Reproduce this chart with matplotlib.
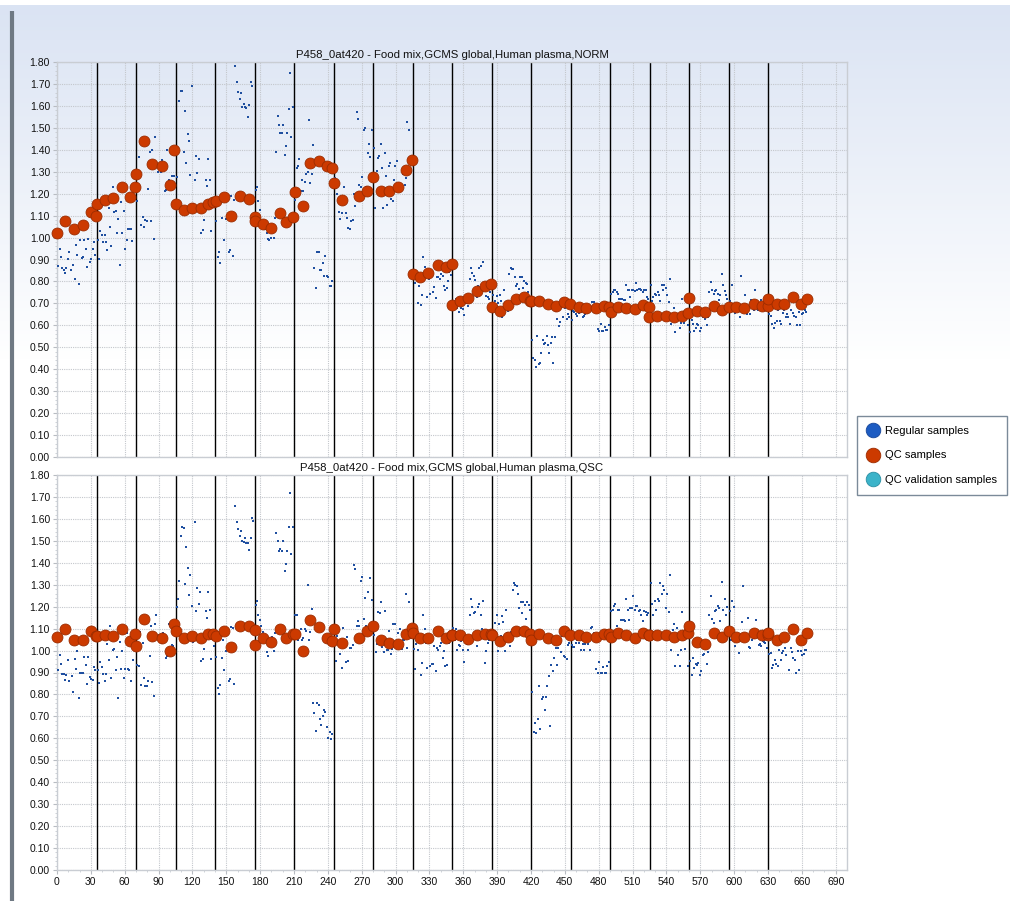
import numpy as np
import matplotlib
matplotlib.use('Agg')
import matplotlib.pyplot as plt
from matplotlib.lines import Line2D
from matplotlib.colors import LinearSegmentedColormap

plt.rcParams['font.family'] = ['Liberation Sans', 'DejaVu Sans']

# batches of 35 injections, one black line between each
batch_size = 35
batch_starts = [35 * k for k in range(19)]

# QC injection order, per batch
qc_x = [
    [0, 7.5, 15, 22.8, 30, 34.6],
    [35.5, 42.6, 49.5, 57.7, 64.9, 69.5],
    [70.2, 77.3, 84.4, 92.6, 99.7, 103.9],
    [105.6, 112.2, 119.6, 127.3, 133.5, 137.9],
    [140.6, 147.7, 154.3, 162, 169.7, 175.1],
    [175.6, 182.7, 189.8, 197.4, 203.3, 208.7],
    [210.5, 217.6, 224.5, 232.2, 239, 244],
    [245, 252.3, 267.4, 274.5, 279.9],
    [287.1, 294.2, 301.9, 309.6, 314.3],
    [315.2, 321.8, 328.9, 337.2, 344.3, 349.6],
    [350.4, 357.3, 364.4, 372, 379.2, 384.5],
    [385.6, 392.8, 399.3, 407, 414.1, 419.4],
    [420.2, 427.4, 435, 442.5, 449, 454.4],
    [462.4, 469, 477.7, 484.5, 489.3],
    [490.5, 497, 504.4, 512.4, 519.5, 524.3],
    [524.9, 532, 539.4, 547, 554.2, 558.9],
    [560.4, 566.9, 574, 582.3, 589.4],
    [595.3, 601.8, 608.9, 617.2, 624.3, 629.6],
    [630.2, 637.6, 643.8, 651.8, 658.9, 664.3],
]

qc_norm = [
    [1.02, 1.075, 1.04, 1.055, 1.115, 1.10],
    [1.155, 1.17, 1.18, 1.23, 1.185, 1.23],
    [1.29, 1.44, 1.335, 1.325, 1.24, 1.40],
    [1.155, 1.125, 1.135, 1.135, 1.155, 1.16],
    [1.165, 1.185, 1.10, 1.19, 1.175, 1.095],
    [1.075, 1.06, 1.045, 1.11, 1.07, 1.095],
    [1.207, 1.143, 1.342, 1.348, 1.324, 1.319],
    [1.25, 1.169, 1.19, 1.212, 1.278],
    [1.214, 1.214, 1.232, 1.308, 1.354],
    [0.835, 0.82, 0.84, 0.876, 0.867, 0.881],
    [0.691, 0.713, 0.725, 0.756, 0.779, 0.79],
    [0.682, 0.667, 0.691, 0.719, 0.731, 0.71],
    [0.71, 0.713, 0.695, 0.689, 0.705, 0.698],
    [0.682, 0.679, 0.679, 0.69, 0.685],
    [0.663, 0.682, 0.679, 0.673, 0.691, 0.684],
    [0.637, 0.641, 0.644, 0.637, 0.644, 0.657],
    [0.724, 0.667, 0.66, 0.69, 0.672],
    [0.685, 0.682, 0.678, 0.698, 0.69, 0.69],
    [0.719, 0.696, 0.699, 0.727, 0.696, 0.719],
]

qc_qsc = [
    [1.061, 1.10, 1.05, 1.05, 1.091, 1.065],
    [1.065, 1.07, 1.065, 1.096, 1.045, 1.077],
    [1.022, 1.146, 1.065, 1.058, 0.997, 1.123],
    [1.088, 1.055, 1.065, 1.058, 1.076, 1.076],
    [1.065, 1.088, 1.016, 1.114, 1.111, 1.093],
    [1.024, 1.058, 1.038, 1.10, 1.055, 1.077],
    [1.077, 0.997, 1.137, 1.109, 1.059, 1.042],
    [1.10, 1.033, 1.059, 1.087, 1.113],
    [1.048, 1.036, 1.032, 1.077, 1.103],
    [1.08, 1.055, 1.059, 1.087, 1.059, 1.071],
    [1.071, 1.071, 1.053, 1.073, 1.077, 1.074],
    [1.07, 1.044, 1.064, 1.087, 1.091, 1.074],
    [1.05, 1.076, 1.059, 1.048, 1.087, 1.071],
    [1.073, 1.064, 1.061, 1.076, 1.075],
    [1.061, 1.081, 1.073, 1.055, 1.078, 1.069],
    [1.069, 1.073, 1.073, 1.061, 1.069, 1.078],
    [1.114, 1.038, 1.032, 1.082, 1.064],
    [1.088, 1.064, 1.061, 1.078, 1.069, 1.069],
    [1.081, 1.05, 1.061, 1.096, 1.046, 1.078],
]

# regular samples, per batch, in injection order
reg_norm = [
    [0.87, 0.95, 0.91, 0.86, 0.85, 0.84, 0.86, 0.90, 0.935, 0.85, 1.035, 0.875, 0.81, 0.965,
     0.92, 0.79, 0.99, 0.905, 0.91, 0.99, 0.95, 0.865, 0.995, 0.89, 0.90, 0.95, 0.98, 0.92],
    [0.99, 0.90, 1.03, 1.01, 0.98, 1.01, 0.98, 0.945, 1.135, 1.05, 0.96, 1.23, 1.115, 1.12,
     1.02, 1.085, 0.875, 1.16, 1.02, 1.12, 0.95, 0.99, 1.04, 1.04, 1.04, 0.985, 1.18, 1.22],
    [1.165, 1.365, 1.30, 1.055, 1.095, 1.05, 1.08, 1.075, 1.22, 1.39, 1.075, 1.40, 0.995, 1.46,
     1.34, 1.30, 1.325, 1.30, 1.355, 1.34, 1.21, 1.215, 1.40, 1.26, 1.24, 1.28, 1.25, 1.28],
    [1.275, 1.41, 1.62, 1.67, 1.67, 1.39, 1.575, 1.34, 1.47, 1.44, 1.285, 1.69, 1.155, 1.26,
     1.37, 1.295, 1.36, 1.135, 1.02, 1.035, 1.08, 1.26, 1.235, 1.36, 1.26, 1.03, 1.16, 1.14],
    [1.075, 0.91, 0.935, 0.885, 1.09, 1.19, 0.99, 1.085, 1.195, 0.935, 0.945, 1.19, 0.915, 1.17,
     1.78, 1.71, 1.665, 1.63, 1.66, 1.595, 1.61, 1.595, 1.59, 1.55, 1.605, 1.71, 1.69, 1.18],
    [1.215, 1.23, 1.165, 1.125, 1.05, 1.05, 1.075, 1.04, 1.02, 0.995, 0.99, 1.0, 1.05, 1.0,
     1.09, 1.39, 1.555, 1.515, 1.475, 1.475, 1.515, 1.375, 1.415, 1.475, 1.585, 1.75, 1.46, 1.595],
    [1.17, 1.315, 1.325, 1.36, 1.21, 1.26, 1.21, 1.255, 1.29, 1.30, 1.535, 1.25, 1.29, 1.42,
     0.86, 0.77, 0.935, 0.935, 0.85, 0.85, 0.885, 0.825, 0.915, 0.825, 0.82, 0.78, 0.78, 0.80],
    [1.27, 1.227, 1.20, 1.117, 1.084, 1.11, 1.17, 1.23, 1.113, 1.087, 1.044, 1.04, 1.076, 1.08,
     1.20, 1.145, 1.57, 1.54, 1.24, 1.232, 1.278, 1.49, 1.50, 1.232, 1.385, 1.425, 1.366, 1.49],
    [1.408, 1.133, 1.304, 1.362, 1.37, 1.426, 1.316, 1.136, 1.385, 1.28, 1.15, 1.324, 1.34, 1.174,
     1.168, 1.263, 1.327, 1.347, 1.212, 1.21, 1.214, 1.232, 1.29, 1.24, 1.27, 1.525, 1.49, 1.316, 1.30],
    [0.835, 0.795, 0.82, 0.70, 0.777, 0.691, 0.736, 0.911, 0.866, 0.84, 0.728, 0.812, 0.744, 0.838,
     0.751, 0.774, 0.725, 0.82, 0.82, 0.809, 0.832, 0.826, 0.781, 0.759, 0.77, 0.80, 0.845, 0.83],
    [0.68, 0.70, 0.72, 0.68, 0.66, 0.695, 0.68, 0.675, 0.646, 0.70, 0.70, 0.69, 0.812, 0.863,
     0.84, 0.826, 0.805, 0.73, 0.78, 0.86, 0.87, 0.77, 0.888, 0.78, 0.735, 0.73, 0.72, 0.75],
    [0.737, 0.695, 0.71, 0.735, 0.70, 0.74, 0.71, 0.64, 0.76, 0.70, 0.69, 0.667, 0.835, 0.86,
     0.855, 0.855, 0.82, 0.78, 0.79, 0.766, 0.82, 0.82, 0.77, 0.80, 0.795, 0.79, 0.75, 0.72],
    [0.534, 0.45, 0.441, 0.411, 0.553, 0.423, 0.428, 0.476, 0.533, 0.517, 0.52, 0.553, 0.511, 0.476,
     0.52, 0.548, 0.429, 0.549, 0.664, 0.629, 0.598, 0.617, 0.682, 0.636, 0.697, 0.68, 0.629, 0.652, 0.64],
    [0.625, 0.667, 0.66, 0.652, 0.644, 0.655, 0.67, 0.66, 0.637, 0.644, 0.652, 0.655, 0.67, 0.69,
     0.67, 0.705, 0.705, 0.68, 0.673, 0.583, 0.575, 0.606, 0.575, 0.575, 0.594, 0.58, 0.58, 0.60],
    [0.744, 0.75, 0.759, 0.762, 0.75, 0.745, 0.718, 0.72, 0.72, 0.715, 0.715, 0.786, 0.759, 0.759,
     0.73, 0.762, 0.759, 0.757, 0.794, 0.762, 0.765, 0.765, 0.759, 0.75, 0.759, 0.76, 0.73, 0.72],
    [0.782, 0.713, 0.73, 0.744, 0.736, 0.75, 0.74, 0.713, 0.782, 0.759, 0.782, 0.77, 0.736, 0.705,
     0.809, 0.606, 0.652, 0.68, 0.568, 0.637, 0.652, 0.59, 0.61, 0.72, 0.61, 0.652, 0.629, 0.60],
    [0.568, 0.625, 0.606, 0.575, 0.59, 0.606, 0.603, 0.575, 0.59, 0.637, 0.652, 0.63, 0.603, 0.637,
     0.75, 0.797, 0.759, 0.744, 0.757, 0.759, 0.744, 0.715, 0.74, 0.835, 0.782, 0.757, 0.736, 0.72],
    [0.713, 0.67, 0.782, 0.68, 0.655, 0.67, 0.69, 0.637, 0.827, 0.66, 0.68, 0.736, 0.652, 0.68,
     0.65, 0.715, 0.68, 0.67, 0.759, 0.69, 0.67, 0.69, 0.715, 0.67, 0.67, 0.68, 0.70],
    [0.652, 0.644, 0.606, 0.59, 0.61, 0.618, 0.67, 0.62, 0.606, 0.655, 0.67, 0.637, 0.652, 0.637,
     0.606, 0.67, 0.655, 0.644, 0.637, 0.603, 0.66, 0.603, 0.652, 0.655, 0.67, 0.66],
]

reg_qsc = [
    [0.913, 0.981, 0.939, 0.895, 0.895, 0.864, 0.89, 0.955, 0.86, 1.05, 0.885, 0.809, 0.963, 0.916,
     0.997, 0.786, 0.898, 0.898, 0.898, 0.97, 0.936, 0.847, 0.97, 0.879, 0.87, 0.864, 0.923, 0.91],
    [0.91, 0.852, 0.948, 0.923, 0.895, 0.86, 0.895, 1.032, 0.958, 1.11, 0.875, 1.004, 1.009, 0.913,
     0.97, 0.782, 1.038, 0.916, 0.997, 0.875, 0.916, 1.08, 0.916, 0.913, 0.86, 1.065, 0.958, 1.082],
    [0.936, 0.931, 1.084, 0.844, 1.035, 0.875, 0.837, 0.837, 0.86, 0.974, 1.11, 0.857, 0.794, 1.119,
     1.164, 1.065, 1.073, 1.058, 1.035, 1.08, 1.065, 0.966, 0.974, 1.123, 1.004, 1.027, 1.02, 1.004],
    [1.20, 1.236, 1.317, 1.52, 1.565, 1.56, 1.305, 1.474, 1.378, 1.251, 1.343, 1.202, 1.038, 1.584,
     1.18, 1.287, 1.21, 1.268, 0.951, 0.962, 1.007, 1.18, 1.149, 1.266, 1.187, 0.962, 1.068, 1.02],
    [0.97, 0.829, 0.803, 0.844, 0.966, 1.05, 0.913, 0.997, 1.096, 0.86, 0.87, 1.108, 1.103, 0.849,
     1.66, 1.588, 1.553, 1.52, 1.546, 1.50, 1.495, 1.515, 1.492, 1.489, 1.459, 1.515, 1.606, 1.59],
    [1.206, 1.224, 1.164, 1.141, 1.111, 1.085, 1.073, 1.038, 0.992, 0.977, 1.02, 1.024, 1.06, 0.997,
     1.08, 1.535, 1.50, 1.454, 1.465, 1.454, 1.50, 1.362, 1.393, 1.454, 1.561, 1.72, 1.439, 1.564],
    [1.161, 1.164, 1.047, 1.07, 1.096, 1.047, 1.058, 1.099, 1.088, 1.30, 1.05, 1.083, 1.19, 0.763,
     0.715, 0.635, 0.763, 0.753, 0.689, 0.661, 0.702, 0.73, 0.72, 0.651, 0.60, 0.631, 0.596, 0.62],
    [1.076, 0.954, 1.068, 1.032, 0.986, 0.92, 1.103, 1.05, 0.946, 1.062, 0.954, 1.012, 1.012, 1.027,
     1.388, 1.373, 1.111, 1.134, 1.111, 1.317, 1.337, 1.142, 1.24, 1.111, 1.266, 1.099, 1.332, 1.23],
    [1.07, 0.992, 1.032, 1.175, 1.172, 1.221, 1.017, 0.992, 1.178, 1.004, 1.001, 1.088, 0.986, 1.007,
     1.119, 1.123, 1.038, 1.08, 1.012, 1.099, 1.007, 1.05, 1.047, 1.256, 1.012, 1.221, 1.096, 1.058],
    [1.007, 0.916, 1.032, 1.004, 1.065, 0.89, 0.943, 1.16, 1.099, 1.035, 0.92, 1.035, 0.931, 0.94,
     0.94, 1.02, 0.905, 1.012, 1.004, 1.022, 1.035, 0.966, 0.997, 0.931, 0.936, 1.05, 1.035, 1.068],
    [1.103, 1.047, 1.098, 1.004, 1.027, 1.02, 1.042, 1.004, 0.946, 1.035, 1.032, 1.004, 1.164, 1.233,
     1.20, 1.172, 1.175, 1.022, 1.20, 1.21, 1.16, 1.096, 1.225, 0.943, 0.997, 1.035, 1.05, 1.06],
    [1.093, 1.05, 1.126, 1.16, 0.997, 1.123, 1.065, 1.157, 1.132, 0.997, 1.187, 1.08, 1.053, 1.02,
     1.083, 1.276, 1.306, 1.30, 1.294, 1.256, 1.195, 1.221, 1.169, 1.221, 1.206, 1.145, 1.221, 1.206, 1.184],
    [0.809, 0.631, 0.672, 0.623, 0.689, 0.837, 0.643, 0.779, 0.788, 0.727, 0.79, 0.84, 0.882, 0.654,
     0.936, 0.905, 0.966, 1.012, 0.936, 1.012, 1.032, 0.992, 1.065, 0.974, 0.97, 0.962, 1.027, 1.035],
    [1.027, 1.016, 1.016, 1.035, 1.05, 1.035, 1.053, 1.004, 1.032, 1.004, 1.032, 1.053, 1.032, 1.004,
     1.103, 1.108, 1.08, 1.053, 0.916, 0.897, 0.946, 0.897, 0.897, 0.925, 0.90, 0.897, 0.928, 0.95],
    [1.179, 1.187, 1.202, 1.21, 1.114, 1.187, 1.184, 1.138, 1.141, 1.137, 1.134, 1.237, 1.187, 1.141,
     1.195, 1.195, 1.248, 1.187, 1.205, 1.202, 1.179, 1.184, 1.164, 1.134, 1.179, 1.175, 1.16, 1.17],
    [1.309, 1.21, 1.164, 1.225, 1.187, 1.233, 1.228, 1.309, 1.256, 1.294, 1.278, 1.195, 1.256, 1.175,
     1.344, 1.004, 1.095, 1.123, 0.931, 1.103, 0.981, 0.931, 1.004, 1.175, 1.065, 1.007, 1.065, 0.931],
    [0.951, 0.89, 0.966, 0.92, 0.94, 0.935, 0.943, 0.89, 0.905, 0.981, 0.986, 1.019, 0.94, 0.992,
     1.164, 1.248, 1.144, 1.126, 1.182, 1.184, 1.202, 1.195, 1.135, 1.312, 1.184, 1.233, 1.164, 1.199],
    [1.179, 1.05, 1.225, 1.199, 1.022, 1.057, 1.05, 0.989, 1.057, 1.129, 1.294, 1.05, 1.065, 1.149,
     1.016, 1.012, 1.05, 1.065, 1.057, 1.141, 1.065, 1.027, 1.032, 1.022, 1.042, 1.037, 1.035, 1.012],
    [0.986, 0.989, 0.92, 0.935, 0.958, 0.94, 0.931, 1.004, 0.958, 0.989, 0.996, 1.012, 0.981, 1.057,
     0.913, 1.012, 0.992, 0.966, 0.958, 0.90, 0.996, 0.913, 0.996, 0.981, 0.986, 1.004, 1.004],
]

titles = [
    "P458_0at420 - Food mix,GCMS global,Human plasma,NORM",
    "P458_0at420 - Food mix,GCMS global,Human plasma,QSC",
]
legend_labels = ["Regular samples", "QC samples", "QC validation samples"]
legend_colors = ["#1d5cc2", "#cc3a00", "#3bb3c9"]
legend_edges = ["#17469a", "#9c2c00", "#2a8ea3"]


def regular_positions(values):
    # spread each batch's regular injections over its 35 slots
    xs = []
    for start, vals in zip(batch_starts, values):
        xs.append(np.linspace(start + 1, start + batch_size - 1, len(vals)))
    return np.concatenate(xs), np.concatenate([np.asarray(v) for v in values])


fig = plt.figure(figsize=(10.10, 9.01), dpi=100)

# pale blue wash fading to white at the top of the page
bg = fig.add_axes([0, 0, 1, 1], zorder=-10)
grad_cmap = LinearSegmentedColormap.from_list("wash", ["#dae3f3", "#ffffff"])
rows = np.linspace(0, 1, 901)
wash = np.clip(rows / 0.40, 0, 1)
wash[:5] = 1.0
bg.imshow(wash[:, None], aspect="auto", cmap=grad_cmap, vmin=0, vmax=1,
          extent=[0, 1, 0, 1], origin="upper")
bg.plot([0.012, 0.012], [0, 0.988], color="#6f7983", lw=3, solid_capstyle="butt")
bg.set_xlim(0, 1)
bg.set_ylim(0, 1)
bg.axis("off")

ax_top = fig.add_axes([57 / 1010, 1 - 457 / 901, 790 / 1010, 395 / 901])
ax_bot = fig.add_axes([57 / 1010, 1 - 870 / 901, 790 / 1010, 395 / 901])

panels = [(ax_top, reg_norm, qc_norm), (ax_bot, reg_qsc, qc_qsc)]
qx = np.concatenate([np.asarray(v) for v in qc_x])

for i, (ax, reg, qc) in enumerate(panels):
    ax.set_facecolor("none")
    rx, ry = regular_positions(reg)
    qy = np.concatenate([np.asarray(v) for v in qc])

    for b in batch_starts[1:]:
        ax.axvline(b, color="black", lw=1.0, zorder=2)

    ax.scatter(rx, ry, s=3.0, marker="s", color="#1f4fa0", linewidths=0, zorder=3)
    ax.scatter(qx, qy, s=62, color="#cc3a00", edgecolors="#9c2c00", linewidths=0.6,
               zorder=4, clip_on=False)

    ax.set_xlim(0, 700)
    ax.set_ylim(0, 1.8)
    ax.set_yticks(np.round(np.arange(0, 1.81, 0.1), 2))
    ax.set_yticks(np.arange(0, 1.81, 0.02), minor=True)
    ax.set_xticks(np.arange(0, 691, 30))
    ax.set_xticks(np.arange(0, 700, 10), minor=True)
    ax.yaxis.set_major_formatter(matplotlib.ticker.FormatStrFormatter("%.2f"))
    ax.grid(True, which="major", color="#c4c7cc", linestyle=(0, (1, 1)), lw=0.8, zorder=0)
    ax.tick_params(axis="both", which="major", labelsize=7.5, length=3, color="#b8bcc2",
                   pad=2, labelcolor="#111111")
    ax.tick_params(axis="both", which="minor", length=1.5, color="#c8ccd2")
    for sp in ax.spines.values():
        sp.set_color("#c9cdd3")
        sp.set_linewidth(1.0)
    ax.set_title(titles[i], fontsize=8.2, pad=3, color="#111111")
    if i == 0:
        ax.tick_params(axis="x", which="both", labelbottom=False, length=0)

handles = [Line2D([], [], marker="o", linestyle="", markersize=10.5,
                  markerfacecolor=c, markeredgecolor=e, markeredgewidth=0.6)
           for c, e in zip(legend_colors, legend_edges)]
fig.legend(handles, legend_labels, loc="upper left",
           bbox_to_anchor=(857 / 1010, 1 - 416 / 901), fontsize=8.0,
           frameon=True, fancybox=False, edgecolor="#7b8a99", framealpha=1,
           borderpad=0.9, labelspacing=1.3, handlelength=1.0, handletextpad=0.6,
           borderaxespad=0)

fig.savefig("out.png", dpi=100)
